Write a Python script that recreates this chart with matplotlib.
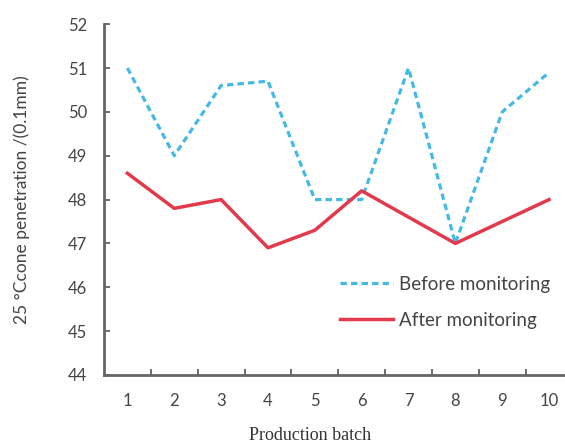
import numpy as np
import matplotlib
matplotlib.use("Agg")
import matplotlib.pyplot as plt

# data
batches = [1, 2, 3, 4, 5, 6, 7, 8, 9, 10]
before = [51.0, 49.0, 50.6, 50.7, 48.0, 48.0, 51.0, 47.0, 50.0, 50.9]
after = [48.6, 47.8, 48.0, 46.9, 47.3, 48.2, 47.6, 47.0, 47.5, 48.0]
y_ticks = [44, 45, 46, 47, 48, 49, 50, 51, 52]

fig = plt.figure(figsize=(5.65, 4.48), dpi=100)
ax = fig.add_axes([0.184, 0.163, 0.816, 0.783])

ax.plot(batches, before, color="#45B9E6", ls=(0, (2.0, 1.3)), lw=2.3, label="Before monitoring")
ax.plot(batches, after, color="#E23A4C", lw=2.5, label="After monitoring")

ax.set_xlim(0.5, 10.34)
ax.set_ylim(44, 52)
ax.set_yticks(y_ticks)
ax.set_xticks(batches)
ax.set_xticks(np.arange(1.5, 10.5, 1), minor=True)
ax.tick_params(axis="x", which="major", length=0, pad=13, labelsize=12, colors="#444444")
ax.tick_params(axis="x", which="minor", direction="in", length=4, width=1.2, color="#555555")
ax.tick_params(axis="y", direction="in", length=4, width=1.2, color="#555555", pad=12,
               labelsize=12, labelcolor="#444444")
for lab in ax.get_xticklabels() + ax.get_yticklabels():
    lab.set_family("Lato")

for s in ["top", "right"]:
    ax.spines[s].set_visible(False)
for s in ["left", "bottom"]:
    ax.spines[s].set_color("#666666")
    ax.spines[s].set_linewidth(2)

ax.set_xlabel("Production batch", family="Liberation Serif", fontsize=13, color="#333333")
ax.xaxis.set_label_coords(0.448, -0.148)
ax.set_ylabel("25 °Ccone penetration /(0.1mm)", family="Lato", fontsize=12.5, color="#444444")
ax.yaxis.set_label_coords(-0.16, 0.5)

ax.legend(loc="upper left", bbox_to_anchor=(0.512, 0.282), frameon=False, borderpad=0,
          borderaxespad=0, handlelength=2.8, handletextpad=0.35, labelspacing=1.0,
          prop={"family": "Lato", "size": 13.5})
for t in ax.get_legend().get_texts():
    t.set_color("#444444")

fig.savefig("out.png", dpi=100)
